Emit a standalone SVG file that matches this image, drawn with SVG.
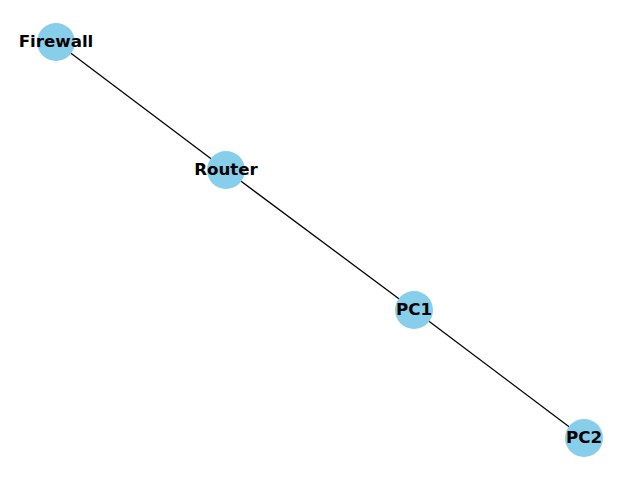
<svg xmlns="http://www.w3.org/2000/svg" width="640" height="480" viewBox="0 0 640 480">
<style>
.e{stroke:#000;stroke-width:1.3;fill:none}
.n{fill:#87CEEB}
.t{font-family:"DejaVu Sans",sans-serif;font-weight:bold;font-size:16.67px;fill:#000;text-anchor:middle;dominant-baseline:central}
</style>
<rect width="640" height="480" fill="#fff"/>
<g id="edges">
<line class="e" x1="56" y1="42" x2="226" y2="170"/>
<line class="e" x1="226" y1="170" x2="414" y2="310"/>
<line class="e" x1="414" y1="310" x2="584" y2="438"/>
</g>
<g id="Firewall"><circle class="n" cx="56" cy="42" r="19"/><text class="t" x="56" y="41">Firewall</text></g>
<g id="Router"><circle class="n" cx="226" cy="170" r="19"/><text class="t" x="226" y="169">Router</text></g>
<g id="PC1"><circle class="n" cx="414" cy="310" r="19"/><text class="t" x="414" y="309">PC1</text></g>
<g id="PC2"><circle class="n" cx="584" cy="438" r="19"/><text class="t" x="584" y="437">PC2</text></g>
</svg>
